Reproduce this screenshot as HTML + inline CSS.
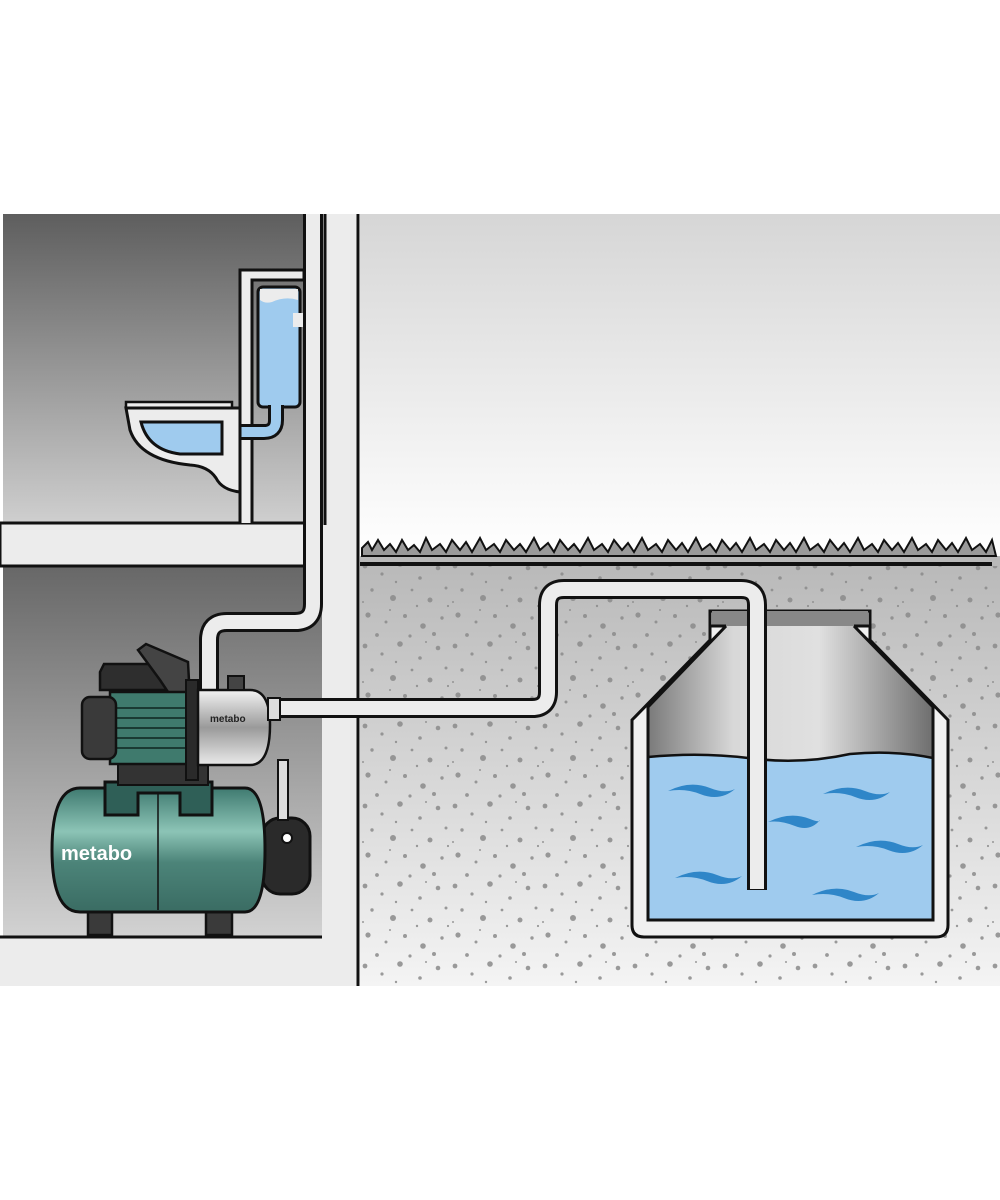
<!DOCTYPE html>
<html><head><meta charset="utf-8"><style>html,body{margin:0;padding:0;background:#fff}svg{display:block}</style></head>
<body>
<svg width="1000" height="1200" viewBox="0 0 1000 1200" xmlns="http://www.w3.org/2000/svg" font-family="Liberation Sans, sans-serif">
<defs>
<linearGradient id="room1" x1="0" y1="0" x2="0" y2="1"><stop offset="0" stop-color="#5e5e5e"/><stop offset="1" stop-color="#cfcfcf"/></linearGradient>
<linearGradient id="room2" x1="0" y1="0" x2="0" y2="1"><stop offset="0" stop-color="#676767"/><stop offset="1" stop-color="#d2d2d2"/></linearGradient>
<linearGradient id="sky" x1="0" y1="0" x2="0" y2="1"><stop offset="0" stop-color="#d6d6d6"/><stop offset="1" stop-color="#ffffff"/></linearGradient>
<linearGradient id="ground" x1="0" y1="0" x2="0" y2="1"><stop offset="0" stop-color="#b8b8b8"/><stop offset="1" stop-color="#f4f4f4"/></linearGradient>
<linearGradient id="tankin" x1="0" y1="0" x2="1" y2="0"><stop offset="0" stop-color="#7a7a7a"/><stop offset="0.3" stop-color="#d8d8d8"/><stop offset="0.6" stop-color="#e0e0e0"/><stop offset="1" stop-color="#6e6e6e"/></linearGradient>
<linearGradient id="green" x1="0" y1="0" x2="0" y2="1"><stop offset="0" stop-color="#3f7a70"/><stop offset="0.35" stop-color="#8cc4b6"/><stop offset="0.6" stop-color="#4c8479"/><stop offset="1" stop-color="#3a6c63"/></linearGradient>
<linearGradient id="chrome" x1="0" y1="0" x2="0" y2="1"><stop offset="0" stop-color="#f2f2f2"/><stop offset="0.5" stop-color="#9a9a9a"/><stop offset="1" stop-color="#eaeaea"/></linearGradient>
<pattern id="spk" width="90" height="80" patternUnits="userSpaceOnUse">
<g fill="#8a8a8a">
<circle cx="5" cy="6" r="2.4"/><circle cx="22" cy="14" r="1.6"/><circle cx="40" cy="4" r="2.8"/><circle cx="60" cy="18" r="1.8"/><circle cx="78" cy="8" r="2.3"/>
<circle cx="12" cy="30" r="1.7"/><circle cx="33" cy="38" r="3"/><circle cx="52" cy="30" r="1.4"/><circle cx="70" cy="40" r="2.5"/><circle cx="86" cy="28" r="1.5"/>
<circle cx="8" cy="55" r="2.6"/><circle cx="26" cy="62" r="1.5"/><circle cx="45" cy="56" r="2"/><circle cx="63" cy="66" r="2.8"/><circle cx="82" cy="58" r="1.7"/>
<circle cx="17" cy="75" r="1.9"/><circle cx="50" cy="76" r="1.6"/><circle cx="74" cy="74" r="2"/><circle cx="36" cy="22" r="1.2"/><circle cx="57" cy="46" r="1.2"/>
<circle cx="3" cy="42" r="1"/><circle cx="66" cy="2" r="1"/><circle cx="88" cy="46" r="1.1"/><circle cx="30" cy="50" r="1"/>
</g></pattern>
</defs>

<rect x="360" y="214" width="640" height="340" fill="url(#sky)"/>
<rect x="360" y="556" width="640" height="430" fill="url(#ground)"/>
<rect x="360" y="566" width="640" height="420" fill="url(#spk)" opacity="0.85"/>
<path d="M362 556 L362 548 L368 542 L372 550 L378 540 L384 550 L390 544 L396 552 L402 540 L408 550 L414 545 L420 552 L426 538 L432 550 L440 544 L446 552 L452 540 L460 550 L466 542 L472 552 L480 538 L486 550 L494 544 L500 552 L506 540 L514 550 L520 544 L526 552 L534 538 L540 550 L548 543 L554 552 L560 540 L568 550 L574 544 L580 552 L588 538 L594 550 L602 544 L608 552 L614 540 L622 550 L628 543 L634 552 L642 538 L648 550 L656 544 L662 552 L668 540 L676 550 L682 543 L688 552 L696 538 L702 550 L710 544 L716 552 L722 540 L730 550 L736 543 L742 552 L750 538 L756 550 L764 544 L770 552 L776 540 L784 550 L790 543 L796 552 L804 538 L810 550 L818 544 L824 552 L830 540 L838 550 L844 543 L850 552 L858 538 L864 550 L872 544 L878 552 L884 540 L892 550 L898 543 L904 552 L912 538 L918 550 L926 544 L932 552 L938 540 L946 550 L952 543 L958 552 L966 538 L972 550 L980 544 L986 552 L992 540 L996 556 Z" fill="#9a9a9a" stroke="#111" stroke-width="2"/>
<line x1="360" y1="564" x2="992" y2="564" stroke="#111" stroke-width="4"/>

<rect x="3" y="214" width="302" height="310" fill="url(#room1)"/>
<rect x="3" y="565" width="324" height="372" fill="url(#room2)"/>
<rect x="0" y="936" width="330" height="50" fill="#ececec"/>
<line x1="0" y1="937" x2="329" y2="937" stroke="#111" stroke-width="3"/>
<line x1="327" y1="565" x2="327" y2="937" stroke="#111" stroke-width="3"/>
<rect x="0" y="523" width="305" height="43" fill="#ececec" stroke="#111" stroke-width="3"/>
<rect x="322" y="214" width="36" height="772" fill="#ececec"/>
<line x1="325" y1="214" x2="325" y2="525" stroke="#111" stroke-width="3"/>
<line x1="358" y1="214" x2="358" y2="986" stroke="#111" stroke-width="3"/>

<path d="M240 523 V270 H304 V280 H252 V523" fill="#ececec" stroke="#111" stroke-width="3"/>
<rect x="258" y="287" width="42" height="120" rx="5" fill="#9fcbee" stroke="#111" stroke-width="3"/>
<path d="M260 289 H298 V300 Q285 296 272 302 Q265 304 260 300 Z" fill="#ececec"/>
<rect x="293" y="313" width="12" height="14" fill="#ececec"/>
<path d="M276 405 V420 Q276 432 264 432 H220" fill="none" stroke="#111" stroke-width="16"/>
<path d="M276 405 V420 Q276 432 264 432 H220" fill="none" stroke="#9fcbee" stroke-width="10"/>
<rect x="126" y="402" width="106" height="6" fill="#ececec" stroke="#111" stroke-width="2.5"/>
<path d="M126 408 H240 V492 Q222 490 216 478 Q208 466 190 465 Q140 460 130 430 Z" fill="#ececec" stroke="#111" stroke-width="3"/>
<path d="M141 422 H222 V454 H180 Q148 450 141 422 Z" fill="#9fcbee" stroke="#111" stroke-width="3"/>

<path d="M313 214 V604 Q313 622 295 622 H227 Q209 622 209 640 V700" fill="none" stroke="#111" stroke-width="20"/>
<path d="M313 214 V604 Q313 622 295 622 H227 Q209 622 209 640 V700" fill="none" stroke="#ececec" stroke-width="14"/>

<!-- tank -->
<path d="M710 611 H870 V640 L948 720 V925 Q948 937 936 937 H644 Q632 937 632 925 V720 L710 640 Z" fill="#f0f0f0" stroke="#111" stroke-width="3"/>
<rect x="712" y="611" width="156" height="15" fill="#888"/>
<path d="M726 626 H854 L933 707 V760 H648 V707 Z" fill="url(#tankin)"/>
<path d="M648 757 Q700 752 748 758 Q800 765 850 754 Q895 750 933 758 V920 H648 Z" fill="#9fcbee" stroke="#111" stroke-width="2.5"/>
<path d="M726 626 L648 707 V920 H933 V707 L854 626" fill="none" stroke="#111" stroke-width="3"/>
<path d="M710 626 H726 M854 626 H870" stroke="#111" stroke-width="3"/>
<g fill="#2f86c8">
<path d="M668 791 Q690 780 710 788 Q725 794 735 789 Q720 802 700 794 Q685 788 668 791Z"/>
<path d="M823 794 Q845 783 865 791 Q880 797 890 792 Q875 805 855 797 Q840 791 823 794Z"/>
<path d="M768 822 Q790 811 810 819 Q820 823 820 820 Q810 832 795 826 Q780 820 768 822Z"/>
<path d="M856 847 Q878 836 898 844 Q913 850 923 845 Q908 858 888 850 Q873 844 856 847Z"/>
<path d="M675 878 Q697 867 717 875 Q732 881 742 876 Q727 889 707 881 Q692 875 675 878Z"/>
<path d="M812 895 Q834 884 854 892 Q869 898 879 893 Q864 906 844 898 Q829 892 812 895Z"/>
</g>

<!-- outlet pipe -->
<path d="M275 708 H532 Q548 708 548 692 V605 Q548 589 564 589 H741 Q757 589 757 605 V890" fill="none" stroke="#111" stroke-width="20"/>
<path d="M275 708 H532 Q548 708 548 692 V605 Q548 589 564 589 H741 Q757 589 757 605 V889" fill="none" stroke="#ececec" stroke-width="14"/>

<!-- pressure vessel -->
<rect x="262" y="818" width="48" height="76" rx="18" fill="#2a2a2a" stroke="#111" stroke-width="3"/>
<circle cx="287" cy="838" r="5" fill="#fff" stroke="#111" stroke-width="2"/>
<rect x="278" y="760" width="10" height="60" fill="#ddd" stroke="#111" stroke-width="2"/>
<rect x="88" y="895" width="24" height="40" fill="#3a3a3a" stroke="#111" stroke-width="2.5"/>
<rect x="206" y="895" width="26" height="40" fill="#3a3a3a" stroke="#111" stroke-width="2.5"/>
<path d="M80 788 H245 Q265 788 265 850 Q265 912 245 912 H80 Q52 912 52 850 Q52 788 80 788 Z" fill="url(#green)" stroke="#111" stroke-width="3"/>
<line x1="158" y1="790" x2="158" y2="910" stroke="#111" stroke-width="1.5"/>
<path d="M105 782 H212 V815 H180 V793 H138 V815 H105 Z" fill="#2f5f57" stroke="#111" stroke-width="3"/>
<text x="61" y="860" font-size="20" font-weight="bold" fill="#fff">metabo</text>

<!-- pump -->
<rect x="118" y="760" width="90" height="25" fill="#333" stroke="#111" stroke-width="2"/>
<path d="M100 672 L104 664 H175 V690 H100 Z" fill="#2e2e2e" stroke="#111" stroke-width="2.5"/>
<path d="M138 650 L146 644 L188 662 L190 700 L180 710 L160 680 Z" fill="#444" stroke="#111" stroke-width="2.5"/>
<rect x="110" y="692" width="90" height="72" fill="#3f7a6d" stroke="#111" stroke-width="2.5"/>
<g stroke="#1a3a33" stroke-width="2"><line x1="112" y1="708" x2="198" y2="708"/><line x1="112" y1="718" x2="198" y2="718"/><line x1="112" y1="728" x2="198" y2="728"/><line x1="112" y1="738" x2="198" y2="738"/><line x1="112" y1="748" x2="198" y2="748"/></g>
<rect x="82" y="697" width="34" height="62" rx="8" fill="#3a3a3a" stroke="#111" stroke-width="2.5"/>
<rect x="186" y="680" width="12" height="100" fill="#2a2a2a" stroke="#111" stroke-width="2"/>
<path d="M198 690 H250 Q270 690 270 725 Q270 765 250 765 H198 Z" fill="url(#chrome)" stroke="#111" stroke-width="2.5"/>
<rect x="228" y="676" width="16" height="14" fill="#444" stroke="#111" stroke-width="2"/>
<rect x="268" y="698" width="12" height="22" fill="#ddd" stroke="#111" stroke-width="2"/>
<text x="210" y="722" font-size="10" font-weight="bold" fill="#222">metabo</text>
</svg>
</body></html>
